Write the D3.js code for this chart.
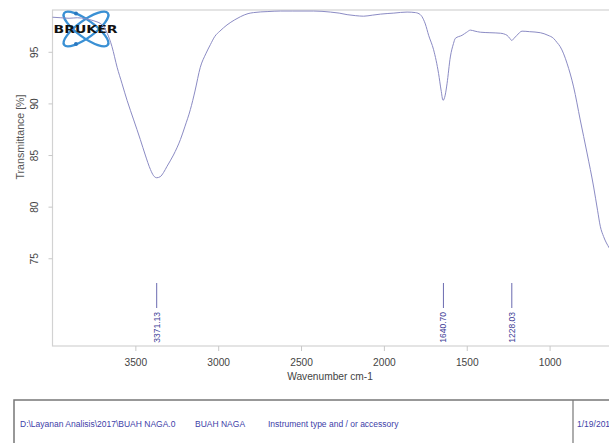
<!DOCTYPE html>
<html>
<head>
<meta charset="utf-8">
<script src="https://cdn.jsdelivr.net/npm/d3@7"></script>
<style>
  html, body { margin: 0; padding: 0; background: #fff; overflow: hidden; }
  svg { display: block; font-family: "Liberation Sans", Arial, sans-serif; }
</style>
</head>
<body>
<svg id="chart" width="609" height="443"></svg>
<script>
// spectrum (wavenumber cm-1, transmittance %)
const wavenumbers = [
  4000, 3950, 3900, 3850, 3800, 3750, 3700, 3670, 3641, 3610, 3580, 3550, 3510, 3470, 3440,
  3409, 3390, 3371, 3350, 3330, 3309, 3270, 3228, 3200, 3168, 3140, 3108, 3075, 3047, 3020,
  2990, 2947, 2900, 2866, 2820, 2786, 2700, 2625, 2550, 2424, 2323, 2270, 2222, 2170, 2122,
  2070, 2021, 1940, 1860, 1810, 1780, 1760, 1750, 1730, 1700, 1670, 1655, 1643, 1630, 1619,
  1599, 1580, 1569, 1528, 1500, 1478, 1450, 1418, 1360, 1297, 1257, 1240, 1228, 1215, 1197,
  1166, 1120, 1056, 1010, 976, 955, 936, 915, 895, 855, 815, 774, 734, 710, 694,
  674, 640, 620
];
const transmittance = [
  98.35, 98.3, 98.25, 98.3, 98.2, 98.0, 97.6, 96.8, 95.5, 93.5, 91.9, 90.3, 88.4, 86.5, 85.0,
  83.6, 83.0, 82.8, 82.9, 83.3, 83.9, 85.0, 86.5, 87.8, 89.4, 91.2, 93.5, 94.8, 95.7, 96.5,
  97.0, 97.6, 98.1, 98.4, 98.7, 98.8, 98.9, 98.95, 98.95, 98.95, 98.85, 98.75, 98.6, 98.5, 98.45,
  98.55, 98.65, 98.75, 98.85, 98.8, 98.6, 98.1, 97.7, 96.6, 95.2, 92.9, 91.3, 90.3, 90.8, 91.9,
  94.5, 95.8, 96.3, 96.6, 96.9, 97.1, 97.0, 96.9, 96.85, 96.8, 96.6, 96.3, 96.1, 96.3, 96.6,
  97.0, 96.95, 96.85, 96.6, 96.3, 95.9, 95.5, 94.8, 93.9, 91.6, 88.4, 85.2, 81.9, 79.6, 78.1,
  77.1, 76.0, 75.5
];

const xTicks = [3500, 3000, 2500, 2000, 1500, 1000];
const yTicks = [75, 80, 85, 90, 95];
const peakPositions = [3371.13, 1640.70, 1228.03];
const peakLabels = ["3371.13", "1640.70", "1228.03"];
const footerTexts = ["D:\\Layanan Analisis\\2017\\BUAH NAGA.0", "BUAH NAGA", "Instrument type and / or accessory", "1/19/2017"];

const svg = d3.select("#chart");
const plot = { left: 52.5, right: 649, top: 10, bottom: 346 };

const x = d3.scaleLinear().domain([4000, 400]).range([plot.left, plot.right]);
const y = d3.scaleLinear().domain([66.5, 99.05]).range([plot.bottom, plot.top]);

// frame
svg.append("rect")
  .attr("x", plot.left)
  .attr("y", plot.top)
  .attr("width", plot.right - plot.left)
  .attr("height", plot.bottom - plot.top)
  .attr("fill", "none")
  .attr("stroke", "#d2d2d2")
  .attr("stroke-width", 1.2);

// x axis
const gx = svg.append("g")
  .attr("transform", `translate(0, ${plot.bottom})`)
  .call(d3.axisBottom(x).tickValues(xTicks).tickSize(5).tickPadding(8).tickFormat(d3.format("d")));
gx.select(".domain").remove();
gx.selectAll(".tick line").attr("stroke", "#c8c8c8");
gx.selectAll(".tick text").attr("fill", "#444").attr("font-size", 10.2).attr("font-family", "Liberation Sans, Arial");

// y axis
const gy = svg.append("g")
  .attr("transform", `translate(${plot.left}, 0)`)
  .call(d3.axisLeft(y).tickValues(yTicks).tickSize(4));
gy.select(".domain").remove();
gy.selectAll(".tick line").attr("stroke", "#c8c8c8");
gy.selectAll(".tick text")
  .attr("fill", "#444")
  .attr("font-size", 10.2)
  .attr("font-family", "Liberation Sans, Arial")
  .attr("text-anchor", "middle")
  .attr("transform", "rotate(-90)")
  .attr("x", 0)
  .attr("y", -15)
  .attr("dy", 0);

// axis titles
svg.append("text")
  .attr("x", 330)
  .attr("y", 380)
  .attr("text-anchor", "middle")
  .attr("font-size", 10.2)
  .attr("fill", "#444")
  .text("Wavenumber cm-1");

svg.append("text")
  .attr("transform", "translate(23.5, 137) rotate(-90)")
  .attr("text-anchor", "middle")
  .attr("font-size", 10.6)
  .attr("fill", "#555")
  .text("Transmittance [%]");

// logo
const logo = svg.append("g").attr("transform", "translate(86, 29)");
[-36, 36].forEach((a) => {
  logo.append("ellipse")
    .attr("rx", 27)
    .attr("ry", 8.5)
    .attr("transform", `rotate(${a})`)
    .attr("fill", "none")
    .attr("stroke", "#3a90d4")
    .attr("stroke-width", 2.4);
});
logo.append("circle").attr("cx", -10).attr("cy", -15.5).attr("r", 2).attr("fill", "#2a78c0");
logo.append("circle").attr("cx", -10).attr("cy", 15).attr("r", 2).attr("fill", "#2a78c0");
svg.append("text")
  .attr("x", 53.5)
  .attr("y", 32.5)
  .attr("font-size", 10.5)
  .attr("font-weight", "bold")
  .attr("font-family", "DejaVu Sans, sans-serif")
  .attr("textLength", 64)
  .attr("lengthAdjust", "spacingAndGlyphs")
  .attr("fill", "#111")
  .text("BRUKER");

// spectrum
const points = wavenumbers.map((w, i) => [w, transmittance[i]]);
svg.append("path")
  .datum(points)
  .attr("fill", "none")
  .attr("stroke", "#8b8bc4")
  .attr("stroke-width", 1)
  .attr("d", d3.line().x((d) => x(d[0])).y((d) => y(d[1])).curve(d3.curveMonotoneX));

// peak markers
const peaks = svg.append("g");
peakPositions.forEach((p, i) => {
  peaks.append("line")
    .attr("x1", x(p)).attr("x2", x(p))
    .attr("y1", 283).attr("y2", 308)
    .attr("stroke", "#6a6ab0")
    .attr("stroke-width", 1);
  peaks.append("text")
    .attr("transform", `translate(${x(p) + 3}, 312) rotate(-90)`)
    .attr("text-anchor", "end")
    .attr("font-size", 8.5)
    .attr("fill", "#3c3c96")
    .text(peakLabels[i]);
});

// footer box
svg.append("rect")
  .attr("x", 14)
  .attr("y", 400)
  .attr("width", 700)
  .attr("height", 100)
  .attr("fill", "none")
  .attr("stroke", "#777")
  .attr("stroke-width", 1.5);
svg.append("line")
  .attr("x1", 573).attr("x2", 573)
  .attr("y1", 400).attr("y2", 443)
  .attr("stroke", "#777")
  .attr("stroke-width", 1.2);

const footerX = [20, 195, 268, 577];
footerTexts.forEach((t, i) => {
  svg.append("text")
    .attr("x", footerX[i])
    .attr("y", 427)
    .attr("font-size", 8.5)
    .attr("fill", "#4040a8")
    .text(t);
});
</script>
</body>
</html>
